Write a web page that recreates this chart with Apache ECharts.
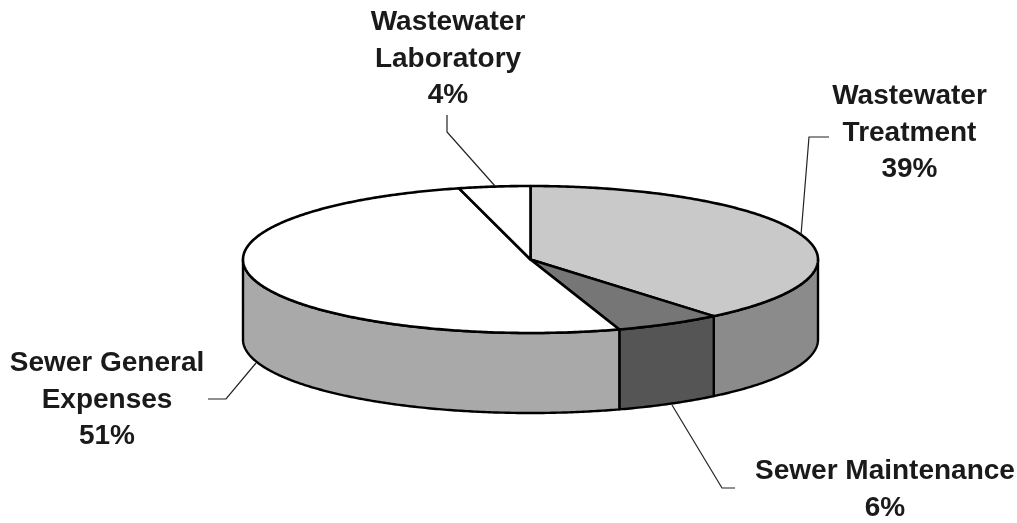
<!DOCTYPE html>
<html>
<head>
<meta charset="utf-8">
<style>html,body{margin:0;padding:0;background:#fff}#chart{width:1017px;height:523px}</style>
<script src="https://cdn.jsdelivr.net/npm/echarts@6/dist/echarts.min.js"></script>
</head>
<body>
<div id="chart"></div>
<script>
// Sewer fund budget shares, clockwise from twelve o'clock
const categories = ['Wastewater\nTreatment', 'Sewer Maintenance', 'Sewer General\nExpenses', 'Wastewater\nLaboratory'];
const shares = [39, 6, 51, 4];

// Slice colours for the top face and the front wall
const topColors = ['#c9c9c9', '#767676', '#ffffff', '#ffffff'];
const wallColors = ['#8b8b8b', '#555555', '#a9a9a9', '#a9a9a9'];

// Label centres and leader lines
const labelCenters = [[909.5, 133], [885, 490], [107, 400], [448, 59]];
const leaders = [
  [[829, 137], [809, 137], [801, 235]],
  [[735, 488], [722, 488], [672, 405]],
  [[208, 399], [226, 399], [256, 363]],
  [[447, 115], [447, 132], [495, 186]]
];

// Disc geometry
const disc = { cx: 530.5, cy: 259.5, rx: 287.5, ry: 73.5, depth: 80 };

const total = shares.reduce((a, b) => a + b, 0);
const toAngle = (share) => (share / total) * 2 * Math.PI;

function rim(angle, drop) {
  return [disc.cx + disc.rx * Math.sin(angle), disc.cy - disc.ry * Math.cos(angle) + drop];
}

function arcPoints(from, to, drop) {
  const steps = Math.max(2, Math.ceil(Math.abs(to - from) / 0.01));
  const pts = [];
  for (let i = 0; i <= steps; i++) pts.push(rim(from + (to - from) * i / steps, drop));
  return pts;
}

function renderSlice(params, api) {
  const i = params.dataIndex;
  const before = shares.slice(0, i).reduce((a, b) => a + b, 0);
  const start = toAngle(before);
  const end = toAngle(before + api.value(0));
  const children = [];

  // Front wall: only the part of the rim facing the viewer
  const wallFrom = Math.max(start, Math.PI / 2);
  const wallTo = Math.min(end, Math.PI * 1.5);
  if (wallTo > wallFrom) {
    children.push({
      type: 'polygon',
      z2: 1,
      shape: { points: arcPoints(wallFrom, wallTo, 0).concat(arcPoints(wallTo, wallFrom, disc.depth)) },
      style: { fill: wallColors[i], stroke: '#000', lineWidth: 2.4, lineJoin: 'round' }
    });
  }

  // Top face
  children.push({
    type: 'polygon',
    z2: 2,
    shape: { points: [[disc.cx, disc.cy]].concat(arcPoints(start, end, 0)) },
    style: { fill: topColors[i], stroke: '#000', lineWidth: 2.6, lineJoin: 'round' }
  });

  // Leader line
  children.push({
    type: 'polyline',
    z2: 3,
    shape: { points: leaders[i] },
    style: { fill: null, stroke: '#222', lineWidth: 1.2 }
  });

  // Category and percentage
  children.push({
    type: 'text',
    z2: 4,
    style: {
      text: categories[i] + '\n' + api.value(0) + '%',
      x: labelCenters[i][0],
      y: labelCenters[i][1],
      align: 'center',
      verticalAlign: 'middle',
      fontFamily: '"Liberation Sans", Arial, sans-serif',
      fontWeight: 'bold',
      fontSize: 28,
      lineHeight: 36.5,
      fill: '#1a1a1a'
    }
  });

  return { type: 'group', children };
}

const chart = echarts.init(document.getElementById('chart'), null, { renderer: 'canvas' });
chart.setOption({
  animation: false,
  backgroundColor: '#ffffff',
  series: [{
    type: 'custom',
    coordinateSystem: 'none',
    renderItem: renderSlice,
    data: shares.map((v, i) => ({ name: categories[i], value: [v] }))
  }]
});
</script>
</body>
</html>
